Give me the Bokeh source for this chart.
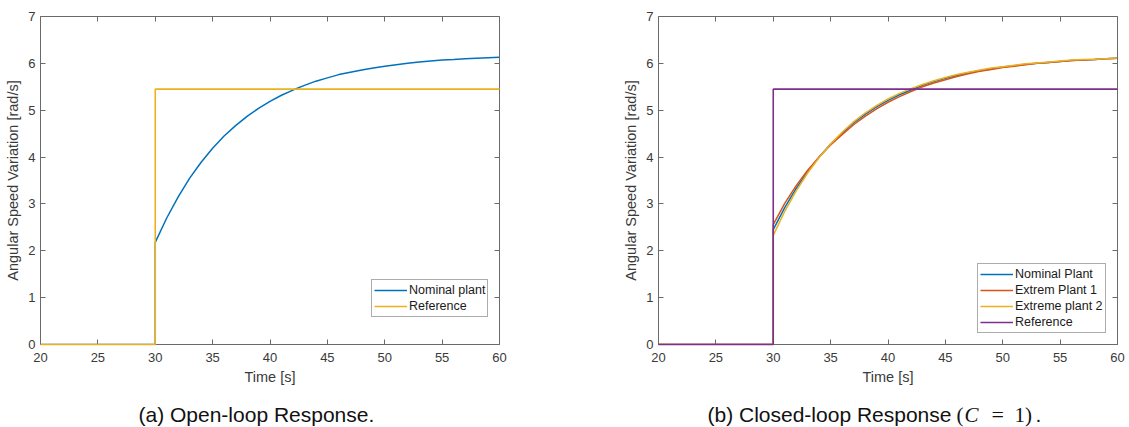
from bokeh.plotting import figure
from bokeh.layouts import row, column
from bokeh.models import FixedTicker, LinearAxis, Range1d, Legend, LegendItem, Label
from bokeh.embed import file_html
from bokeh.resources import INLINE

# ---- data -------------------------------------------------------------
time_s = list(range(30, 61))          # response samples after the step [s]
pre_time = [20, 30]                   # before the step every output is zero
pre_value = [0.0, 0.0]

open_nominal = [2.18, 2.70, 3.15, 3.55, 3.89, 4.19, 4.45, 4.67, 4.87, 5.04,
                5.19, 5.32, 5.43, 5.53, 5.62, 5.69, 5.76, 5.81, 5.86, 5.90,
                5.94, 5.97, 6.00, 6.03, 6.05, 6.07, 6.08, 6.10, 6.11, 6.12, 6.13]

closed_nominal = [2.45, 2.92, 3.33, 3.69, 4.00, 4.28, 4.51, 4.73, 4.91, 5.07,
                  5.21, 5.33, 5.43, 5.53, 5.61, 5.68, 5.74, 5.80, 5.84, 5.88,
                  5.92, 5.95, 5.98, 6.00, 6.02, 6.04, 6.06, 6.07, 6.08, 6.10, 6.11]

closed_extrem1 = [2.56, 3.01, 3.39, 3.72, 4.00, 4.26, 4.48, 4.69, 4.87, 5.03,
                  5.17, 5.29, 5.40, 5.50, 5.58, 5.65, 5.72, 5.78, 5.83, 5.87,
                  5.91, 5.94, 5.97, 6.00, 6.02, 6.04, 6.06, 6.07, 6.08, 6.10, 6.11]

closed_extreme2 = [2.33, 2.84, 3.28, 3.66, 3.99, 4.28, 4.53, 4.75, 4.94, 5.10,
                   5.24, 5.36, 5.46, 5.55, 5.63, 5.70, 5.76, 5.81, 5.86, 5.90,
                   5.93, 5.96, 5.99, 6.01, 6.03, 6.05, 6.07, 6.08, 6.09, 6.10, 6.11]

step_time = [20, 30, 30, 60]
step_ref = [0.0, 0.0, 5.45, 5.45]

x_ticks = [20, 25, 30, 35, 40, 45, 50, 55, 60]
y_ticks = [0, 1, 2, 3, 4, 5, 6, 7]

# ---- style ------------------------------------------------------------
BLUE, RED, YELLOW, PURPLE = "#0072BD", "#D95319", "#EDB120", "#7E2F8E"
AXIS_COLOR = "#6a6a6a"
TEXT_COLOR = "#3a3a3a"
FONT = "Liberation Sans"
SERIF = "Liberation Serif"
PANEL_HEIGHT = 390
FRAME_BOTTOM = 344   # px from top of canvas
CAPTION_HEIGHT = 37


def style_axis(ax, ticks, show_labels=True):
    ax.ticker = FixedTicker(ticks=ticks)
    ax.axis_line_color = AXIS_COLOR
    ax.axis_line_width = 1
    ax.major_tick_line_color = AXIS_COLOR
    ax.major_tick_in = 5
    ax.major_tick_out = 0
    ax.minor_tick_line_color = None
    ax.major_label_text_font = FONT
    ax.major_label_text_color = TEXT_COLOR
    if show_labels:
        ax.major_label_text_font_size = "13px"
    else:
        # box edge with inward ticks only
        ax.major_label_text_color = None
        ax.major_label_text_font_size = "1px"
        ax.major_label_standoff = 0
    ax.axis_label_text_font = FONT
    ax.axis_label_text_font_style = "normal"
    ax.axis_label_text_font_size = "14.5px"
    ax.axis_label_text_color = TEXT_COLOR


def make_panel(width, border_left, border_right):
    p = figure(width=width, height=PANEL_HEIGHT,
               x_range=Range1d(20, 60), y_range=Range1d(0, 7),
               output_backend="svg", toolbar_location=None,
               min_border_left=border_left, min_border_right=border_right,
               min_border_top=16, min_border_bottom=PANEL_HEIGHT - FRAME_BOTTOM)
    p.outline_line_color = None
    p.grid.visible = False
    p.background_fill_color = "white"
    p.border_fill_color = "white"

    xb = p.xaxis[0]
    style_axis(xb, x_ticks)
    xb.axis_label = "Time [s]"
    xb.major_label_standoff = 8
    xb.axis_label_standoff = 4

    yl = p.yaxis[0]
    style_axis(yl, y_ticks)
    yl.axis_label = "Angular Speed Variation [rad/s]"
    yl.major_label_standoff = 5
    yl.axis_label_standoff = 4

    top = LinearAxis()
    style_axis(top, x_ticks, show_labels=False)
    p.add_layout(top, "above")
    right = LinearAxis()
    style_axis(right, y_ticks, show_labels=False)
    p.add_layout(right, "right")
    return p


def style_legend(legend):
    legend.border_line_color = "#5a5a5a"
    legend.border_line_width = 1
    legend.background_fill_color = "white"
    legend.background_fill_alpha = 1
    legend.padding = 2
    legend.spacing = 0
    legend.margin = 0
    legend.glyph_width = 33
    legend.glyph_height = 16
    legend.label_height = 16
    legend.label_standoff = 2
    legend.label_text_font = FONT
    legend.label_text_font_size = "12.5px"
    legend.label_text_color = "#1a1a1a"


# ---- (a) open loop ---------------------------------------------------------
pa = make_panel(565, 40, 66)
ra1 = pa.line(pre_time + time_s, pre_value + open_nominal, line_color=BLUE, line_width=1.5)
ra2 = pa.line(step_time, step_ref, line_color=YELLOW, line_width=1.6)
ra2.level = "overlay"
leg_a = Legend(items=[LegendItem(label="Nominal plant", renderers=[ra1]),
                      LegendItem(label="Reference", renderers=[ra2])],
               location=(331, 27))
style_legend(leg_a)
pa.add_layout(leg_a)

# ---- (b) closed loop ---------------------------------------------------------
pb = make_panel(564, 93, 12)
rb1 = pb.line(pre_time + time_s, pre_value + closed_nominal, line_color=BLUE, line_width=1.5)
rb2 = pb.line(pre_time + time_s, pre_value + closed_extrem1, line_color=RED, line_width=1.5)
rb3 = pb.line(pre_time + time_s, pre_value + closed_extreme2, line_color=YELLOW, line_width=1.5)
rb4 = pb.line(step_time, step_ref, line_color=PURPLE, line_width=1.6)
rb4.level = "overlay"
leg_b = Legend(items=[LegendItem(label="Nominal Plant", renderers=[rb1]),
                      LegendItem(label="Extrem Plant 1", renderers=[rb2]),
                      LegendItem(label="Extreme plant 2", renderers=[rb3]),
                      LegendItem(label="Reference", renderers=[rb4])],
               location=(319, 11))
style_legend(leg_b)
pb.add_layout(leg_b)

# ---- sub-captions strip (pixel coordinates) ---------------------------------
cap = figure(width=1129, height=CAPTION_HEIGHT,
             x_range=Range1d(0, 1129), y_range=Range1d(0, CAPTION_HEIGHT),
             output_backend="svg", toolbar_location=None,
             x_axis_location=None, y_axis_location=None,
             min_border_left=0, min_border_right=0, min_border_top=0, min_border_bottom=0)
cap.outline_line_color = None
cap.grid.visible = False
cap.border_fill_color = "white"
cap.background_fill_color = "white"

CAP_Y = CAPTION_HEIGHT - (414 - PANEL_HEIGHT)


def caption(text, x, font=FONT, style="normal", size="21px"):
    cap.add_layout(Label(x=x, y=CAP_Y, text=text, text_font=font,
                         text_font_style=style, text_font_size=size,
                         text_color="#111111", text_baseline="middle",
                         text_align="left"))


caption("(a) Open-loop Response.", 138)
caption("(b) Closed-loop Response", 707)
caption("(", 956, font=SERIF)
caption("C", 964, font=SERIF, style="italic")
caption("=", 991, font=SERIF, size="22px")
caption("1)", 1014, font=SERIF)
caption(".", 1035)

layout = column(row(pa, pb), cap)
open("out.html", "w").write(file_html(layout, INLINE))
